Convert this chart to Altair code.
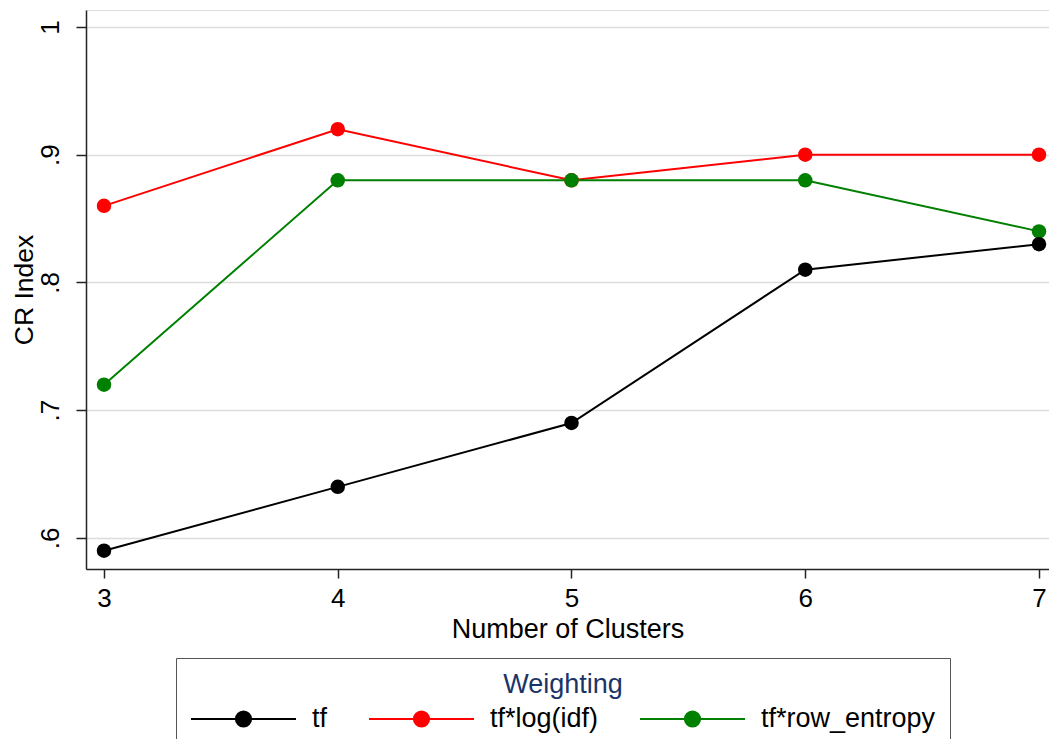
import altair as alt
import pandas as pd

clusters = [3, 4, 5, 6, 7]
tf = [0.59, 0.64, 0.69, 0.81, 0.83]
tf_log_idf = [0.86, 0.92, 0.88, 0.90, 0.90]
tf_row_entropy = [0.72, 0.88, 0.88, 0.88, 0.84]
series_names = ["tf", "tf*log(idf)", "tf*row_entropy"]
series_colors = ["#000000", "#ff0000", "#008000"]
y_ticks = [0.6, 0.7, 0.8, 0.9, 1.0]

# drawing order: red first, then green, black on top
ordered = [(series_names[1], tf_log_idf), (series_names[2], tf_row_entropy), (series_names[0], tf)]
rows = []
for rank, (name, vals) in enumerate(ordered):
    for c, v in zip(clusters, vals):
        rows.append({"clusters": c, "cr": v, "series": name, "rank": rank})
df = pd.DataFrame(rows)

FONT = "Liberation Sans"
SYMBOL = "M-1,0H1M-0.145,0A0.145,0.145,0,1,0,0.145,0A0.145,0.145,0,1,0,-0.145,0Z"

x = alt.X(
    "clusters:Q",
    title="Number of Clusters",
    scale=alt.Scale(domain=[2.923, 7.0428], nice=False, zero=False),
    axis=alt.Axis(
        values=clusters, format="d", grid=False,
        tickSize=9, tickColor="#222222", tickWidth=1.5,
        domainColor="#222222", domainWidth=1.5,
        labelPadding=7, labelFontSize=26, labelFont=FONT, labelColor="#000000",
        titleFontSize=27, titleFont=FONT, titleFontWeight="normal", titleColor="#000000",
        titleBaseline="alphabetic", titleY=68,
    ),
)
y = alt.Y(
    "cr:Q",
    title="CR Index",
    scale=alt.Scale(domain=[0.5757, 1.0133], nice=False, zero=False),
    axis=alt.Axis(
        values=y_ticks,
        labelExpr="datum.value >= 1 ? '1' : substring(format(datum.value, '.1f'), 1)",
        labelAngle=270, labelAlign="center", labelBaseline="alphabetic",
        labelPadding=18, labelFontSize=26, labelFont=FONT, labelColor="#000000",
        tickSize=10, tickColor="#222222", tickWidth=1.5,
        domainColor="#222222", domainWidth=1.5,
        grid=True, gridColor="#dcdcdc", gridWidth=1.5,
        titleFontSize=26.5, titleFont=FONT, titleFontWeight="normal", titleColor="#000000",
        titleBaseline="alphabetic", titleX=-54,
    ),
)
color = alt.Color(
    "series:N",
    scale=alt.Scale(domain=series_names, range=series_colors),
    legend=alt.Legend(
        title="Weighting", orient="none", legendX=90, legendY=648,
        direction="horizontal",
        symbolType=SYMBOL, symbolSize=11025, symbolStrokeWidth=2, symbolOpacity=1,
        clipHeight=26, labelOffset=15, columnPadding=40, padding=14,
        strokeColor="#555555", labelLimit=0,
        titleAnchor="middle", titleColor="#1a3468", titleFontSize=27, titleFont=FONT,
        titleFontWeight="normal", titlePadding=7,
        labelFontSize=27, labelFont=FONT, labelColor="#000000",
    ),
)

base = alt.Chart(df)
lines = base.mark_line(strokeWidth=2).encode(x=x, y=y, color=color, order="rank:Q")
points = base.mark_point(filled=True, size=210, opacity=1).encode(
    x=x, y=y, color=color, order="rank:Q"
)

chart = (
    alt.layer(lines, points)
    .properties(
        width=963,
        height=559,
        autosize=alt.AutoSizeParams(type="none"),
        padding={"left": 78, "top": 2, "right": 0, "bottom": 170},
    )
    .configure_view(stroke=None)
    .configure(font=FONT)
)

chart.save("out.html", embed_options={"renderer": "svg", "actions": False})
